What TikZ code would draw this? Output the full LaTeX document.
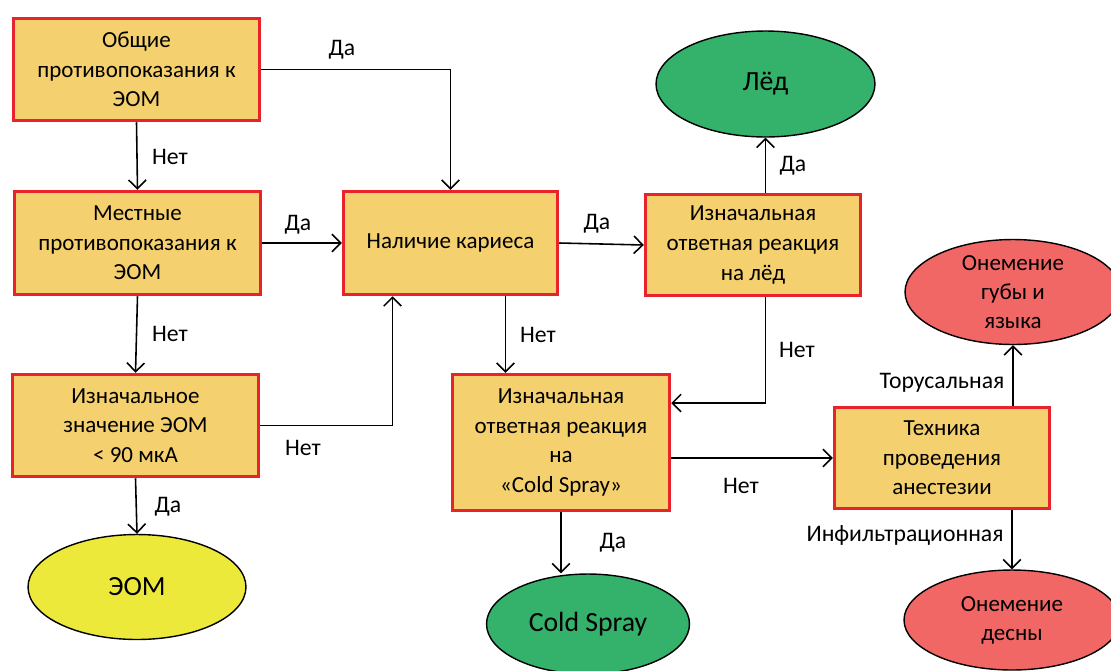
\documentclass[tikz,border=0pt]{standalone}
\usepackage{fontspec}
\setmainfont{Carlito}
\usetikzlibrary{arrows.meta,calc,shapes.geometric}
\definecolor{boxfill}{HTML}{F4D06E}
\definecolor{boxline}{HTML}{E8232B}
\definecolor{grn}{HTML}{34B16A}
\definecolor{ylw}{HTML}{EDE93B}
\definecolor{rd}{HTML}{F06766}
\begin{document}
\begin{tikzpicture}[x=0.02cm,y=-0.02cm,
  box/.style={draw=boxline, fill=boxfill, line width=2pt, rectangle, align=center,
    font=\fontsize{13.1}{16.8}\selectfont, inner sep=0pt},
  oval/.style={draw=black, line width=0.8pt, ellipse, inner sep=0pt},
  ovaltext/.style={align=center, inner sep=0pt},
  conn/.style={-{Straight Barb[length=5pt,width=10pt]}, line width=0.9pt},
  lbl/.style={font=\fontsize{13.5}{15}\selectfont, inner sep=0pt}]
\clip (0,0) rectangle (1111,670);
\fill[white] (0,0) rectangle (1111,670);

% boxes
\node[box, minimum width=4.92cm, minimum height=2.04cm] (b1) at (136.5,69.5) {Общие\\противопоказания к\\ЭОМ};
\node[box, minimum width=4.92cm, minimum height=2.06cm] (b2) at (137.5,243) {Местные\\противопоказания к\\ЭОМ};
\node[box, minimum width=4.92cm, minimum height=2.04cm] (b3) at (135.5,425.5) {Изначальное\\значение ЭОМ\\< 90 мкА};
\node[box, minimum width=4.28cm, minimum height=2.06cm] (kar) at (450.5,243) {Наличие кариеса};
\node[box, minimum width=4.30cm, minimum height=2.02cm] (ledq) at (753,245) {Изначальная\\ответная реакция\\на лёд};
\node[box, minimum width=4.34cm, minimum height=2.72cm] (cs) at (561,442.5) {Изначальная\\ответная реакция\\на\\«Cold Spray»};
\node[box, minimum width=4.30cm, minimum height=2.02cm] (tech) at (942,458) {Техника\\проведения\\анестезии};

% ovals
\node[oval, fill=ylw, minimum width=4.36cm, minimum height=2.1cm] (eom) at (137,587) {};
\node[ovaltext, font=\fontsize{15.8}{18}\selectfont] (eomt) at (eom) {ЭОМ};
\node[oval, fill=grn, minimum width=4.38cm, minimum height=2.12cm] (led) at (765.5,84) {};
\node[ovaltext, font=\fontsize{15.8}{18}\selectfont] (ledt) at (led) {Лёд};
\node[oval, fill=grn, minimum width=4.06cm, minimum height=2.0cm] (csp) at (588,624) {};
\node[ovaltext, font=\fontsize{15.8}{18}\selectfont] (cspt) at (csp) {Cold Spray};
\node[oval, fill=rd, minimum width=4.32cm, minimum height=2.1cm] (gub) at (1013,292) {};
\node[ovaltext, font=\fontsize{13.1}{16.5}\selectfont] (gubt) at (gub) {Онемение\\губы и\\языка};
\node[oval, fill=rd, minimum width=4.32cm, minimum height=2.0cm] (des) at (1012,620) {};
\node[ovaltext, font=\fontsize{13.1}{16.5}\selectfont] (dest) at (des) {Онемение\\десны};

% connectors
\draw[conn] (b1.east) -| (kar.north);
\draw[conn] (b1.south) -- (b2.north);
\draw[conn] (b2.east) -- (kar.west);
\draw[conn] (b2.south) -- (b3.north);
\coordinate (karin) at ($(kar.south)+(-58,0)$);
\draw[conn] (b3.east) -| (karin);
\draw[conn] (b3.south) -- (eom.north);
\draw[conn] (kar.east) -- (ledq.west);
\coordinate (karout) at ($(kar.south)+(55,0)$);
\draw[conn] (karout) -- (karout |- cs.north);
\draw[conn] (ledq.north -| led.south) -- (led.south);
\coordinate (csin) at ($(cs.east)+(0,-39.5)$);
\draw[conn] (ledq.south -| led.south) |- (csin);
\draw[conn] (cs.east |- tech.west) -- (tech.west);
\draw[conn] (cs.south) -- (cs.south |- csp.north);
\draw[conn] (tech.north -| gub.south) -- (gub.south);
\draw[conn] (tech.south -| des.north) -- (des.north);

% labels
\node[lbl] (l1) at (342,50) {Да};
\node[lbl] (l2) at (170,157) {Нет};
\node[lbl] (l3) at (298,225) {Да};
\node[lbl] (l4) at (170,334) {Нет};
\node[lbl] (l5) at (303,448) {Нет};
\node[lbl] (l6) at (168,507) {Да};
\node[lbl] (l7) at (597,224) {Да};
\node[lbl] (l8) at (538,335) {Нет};
\node[lbl] (l9) at (793,166) {Да};
\node[lbl] (l10) at (797,350) {Нет};
\node[lbl] (l11) at (741,486) {Нет};
\node[lbl] (l12) at (613,543) {Да};
\node[lbl] (l13) at (942,383) {Торусальная};
\node[lbl] (l14) at (905,535) {Инфильтрационная};
\end{tikzpicture}
\end{document}
